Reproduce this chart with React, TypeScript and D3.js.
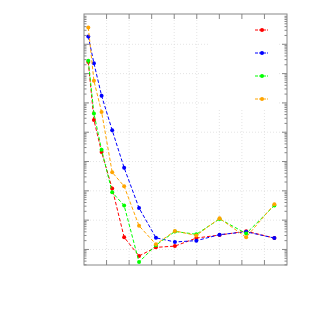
import * as d3 from "d3";
import { useEffect, useRef } from "react";

// x positions of the samples (in tick units) and the tick values
const xTicks = [0, 1, 2, 3, 4, 5, 6, 7, 8, 9];
const steps = [0.19, 0.44, 0.78, 1.25, 1.78, 2.44, 3.19, 4.03, 4.98, 6.01, 7.19, 8.44];

// series values (log axis)
const redVals = [0.0249, 2.6e-4, 2.1e-5, 1.2e-6, 2.6e-8, 6.0e-9, 1.18e-8, 1.3e-8, 2.45e-8, 3.1e-8, 4.2e-8, 2.45e-8];
const blueVals = [0.185, 0.0227, 1.76e-3, 1.17e-4, 6.1e-6, 2.6e-7, 2.5e-8, 1.8e-8, 2.0e-8, 3.2e-8, 4.0e-8, 2.45e-8];
const greenVals = [0.0275, 4.35e-4, 2.5e-5, 8.9e-7, 3.15e-7, 3.7e-9, 1.4e-8, 4.1e-8, 3.3e-8, 1.1e-7, 3.5e-8, 3.15e-7];
const orangeVals = [0.374, 5.7e-3, 4.9e-4, 4.3e-6, 1.43e-6, 6.4e-8, 1.5e-8, 4.3e-8, 3.0e-8, 1.15e-7, 2.6e-8, 3.5e-7];

const seriesColors = ["#ff0000", "#0000ff", "#00ff00", "#ffa500"];
const seriesVals = [redVals, blueVals, greenVals, orangeVals];

const W = 314;
const H = 314;
const M = { left: 84, right: 27, top: 14, bottom: 49 };

export default function App() {
  const ref = useRef<SVGSVGElement>(null);

  useEffect(() => {
    const svg = d3.select(ref.current);
    svg.selectAll("*").remove();

    const x = d3.scaleLinear().domain([0, 9]).range([M.left, W - M.right]);
    const y = d3.scaleLog().domain([2.95e-9, 1.08]).range([H - M.bottom, M.top]);

    const g = svg.append("g");

    // grid
    const decades = d3.range(-8, 0).map((e) => Math.pow(10, e));
    g.selectAll(".hgrid")
      .data(decades)
      .join("line")
      .attr("x1", M.left)
      .attr("x2", W - M.right)
      .attr("y1", (d) => y(d))
      .attr("y2", (d) => y(d))
      .attr("stroke", "#d8d8d8")
      .attr("stroke-width", 0.7)
      .attr("stroke-dasharray", "1,2");
    g.selectAll(".vgrid")
      .data(xTicks.slice(1, -1))
      .join("line")
      .attr("x1", (d) => x(d))
      .attr("x2", (d) => x(d))
      .attr("y1", M.top)
      .attr("y2", H - M.bottom)
      .attr("stroke", "#d8d8d8")
      .attr("stroke-width", 0.7)
      .attr("stroke-dasharray", "1,2");

    // legend box hides grid behind it
    g.append("rect")
      .attr("x", 210)
      .attr("y", M.top + 1)
      .attr("width", 68)
      .attr("height", 94)
      .attr("fill", "white");

    // series
    const line = d3
      .line<number>()
      .x((_, i) => x(steps[i]))
      .y((d) => y(d));

    seriesVals.forEach((vals, si) => {
      g.append("path")
        .datum(vals)
        .attr("d", line)
        .attr("fill", "none")
        .attr("stroke", seriesColors[si])
        .attr("stroke-width", 1)
        .attr("stroke-dasharray", "3.5,2");
      g.selectAll(".pt" + si)
        .data(vals)
        .join("circle")
        .attr("cx", (_, i) => x(steps[i]))
        .attr("cy", (d) => y(d))
        .attr("r", 2)
        .attr("fill", seriesColors[si]);
    });

    // legend (no labels)
    seriesColors.forEach((c, i) => {
      const ly = 30 + i * 23;
      g.append("line")
        .attr("x1", 255)
        .attr("x2", 268)
        .attr("y1", ly)
        .attr("y2", ly)
        .attr("stroke", c)
        .attr("stroke-width", 1)
        .attr("stroke-dasharray", "3,1");
      g.append("circle").attr("cx", 262).attr("cy", ly).attr("r", 2).attr("fill", c);
    });

    // frame
    g.append("rect")
      .attr("x", M.left)
      .attr("y", M.top)
      .attr("width", W - M.left - M.right)
      .attr("height", H - M.top - M.bottom)
      .attr("fill", "none")
      .attr("stroke", "#888")
      .attr("stroke-width", 1);

    // ticks, inward, on all four sides
    const majorLen = 5;
    const minorLen = 2.5;
    xTicks.slice(1, -1).forEach((t) => {
      g.append("line")
        .attr("x1", x(t)).attr("x2", x(t))
        .attr("y1", H - M.bottom).attr("y2", H - M.bottom - majorLen)
        .attr("stroke", "#888");
      g.append("line")
        .attr("x1", x(t)).attr("x2", x(t))
        .attr("y1", M.top).attr("y2", M.top + majorLen)
        .attr("stroke", "#888");
    });

    const minors: number[] = [];
    d3.range(-9, 1).forEach((e) => {
      d3.range(2, 10).forEach((k) => {
        const v = k * Math.pow(10, e);
        if (v > 2.95e-9 && v < 1.08) minors.push(v);
      });
    });
    const yTicks = [...decades.map((v) => ({ v, len: majorLen })), ...minors.map((v) => ({ v, len: minorLen }))];
    yTicks.forEach(({ v, len }) => {
      g.append("line")
        .attr("x1", M.left).attr("x2", M.left + len)
        .attr("y1", y(v)).attr("y2", y(v))
        .attr("stroke", "#888");
      g.append("line")
        .attr("x1", W - M.right).attr("x2", W - M.right - len)
        .attr("y1", y(v)).attr("y2", y(v))
        .attr("stroke", "#888");
    });
  }, []);

  return (
    <svg
      ref={ref}
      width={W}
      height={H}
      style={{ position: "absolute", left: 0, top: 0, background: "white" }}
    />
  );
}
